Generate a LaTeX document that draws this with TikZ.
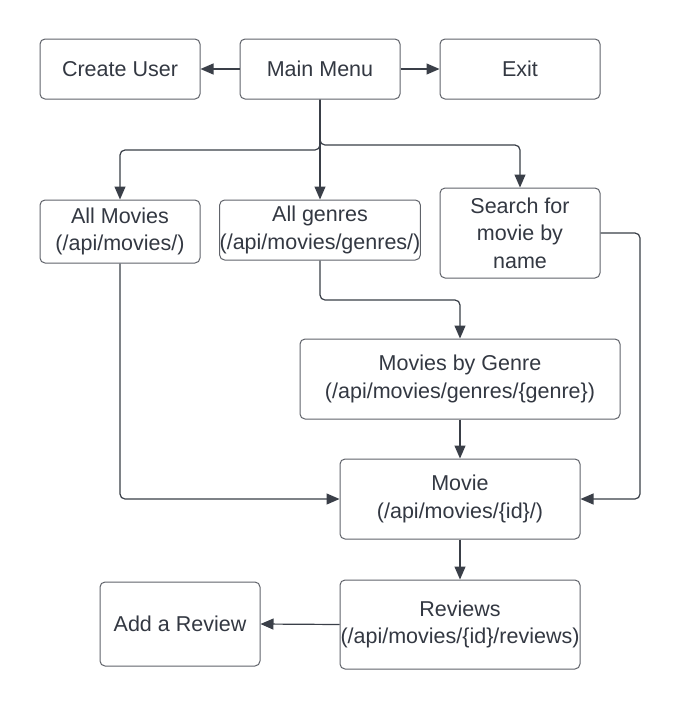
\documentclass[tikz,border=0pt]{standalone}
\usepackage{fontspec}
\setmainfont{Liberation Sans}
\usetikzlibrary{arrows.meta}
\definecolor{txt}{RGB}{51,56,66}
\definecolor{edge}{RGB}{96,99,106}
\definecolor{wire}{RGB}{58,63,72}
\tikzset{
  box/.style={draw=edge, line width=1pt, rounded corners=5pt, fill=white,
    text=txt, align=center, inner sep=0pt,
    font=\fontsize{21.5}{27.5}\selectfont},
  arr/.style={draw=wire, line width=1.2pt, rounded corners=5pt,
    -{Triangle[length=13pt, width=11pt]}},
}
\begin{document}
\begin{tikzpicture}[x=1pt, y=-1pt]
\useasboundingbox (0,0) rectangle (681,710);
\fill[white] (0,0) rectangle (681,710);

\node[box, minimum width=160pt, minimum height=60pt] (cu) at (120,69) {Create User};
\node[box, minimum width=160pt, minimum height=60pt] (main) at (320,69) {Main Menu};
\node[box, minimum width=160pt, minimum height=60pt] (exit) at (520,69) {Exit};

\node[box, minimum width=160pt, minimum height=63pt] (allm) at (120,231.5) {All Movies\\(/api/movies/)};
\node[box, minimum width=200pt, minimum height=60pt] (allg) at (320,230) {All genres\\(/api/movies/genres/)};
\node[box, minimum width=160pt, minimum height=90pt] (search) at (520,233) {Search for\\movie by\\name};

\node[box, minimum width=320pt, minimum height=80pt] (mbg) at (460,379) {Movies by Genre\\(/api/movies/genres/\{genre\})};
\node[box, minimum width=240pt, minimum height=80pt] (movie) at (460,499) {Movie\\(/api/movies/\{id\}/)};
\node[box, minimum width=240pt, minimum height=89pt] (rev) at (460,624.5) {Reviews\\(/api/movies/\{id\}/reviews)};
\node[box, minimum width=160pt, minimum height=84pt] (add) at (180,624) {Add a Review};

\draw[arr] (main.west) -- (cu.east);
\draw[arr] (main.east) -- (exit.west);
\draw[arr] (main.south) |- (120,150) -- (allm.north);
\draw[arr] (main.south) -- (allg.north);
\draw[arr] (main.south) |- (520,145) -- (search.north);
\draw[arr] (allg.south) |- (460,300) -- (mbg.north);
\draw[arr] (mbg.south) -- (movie.north);
\draw[arr] (allm.south) |- (movie.west);
\draw[arr] (search.east) -| (640,499) -- (movie.east);
\draw[arr] (movie.south) -- (rev.north);
\draw[arr] (rev.west) -- (add.east);
\end{tikzpicture}
\end{document}
